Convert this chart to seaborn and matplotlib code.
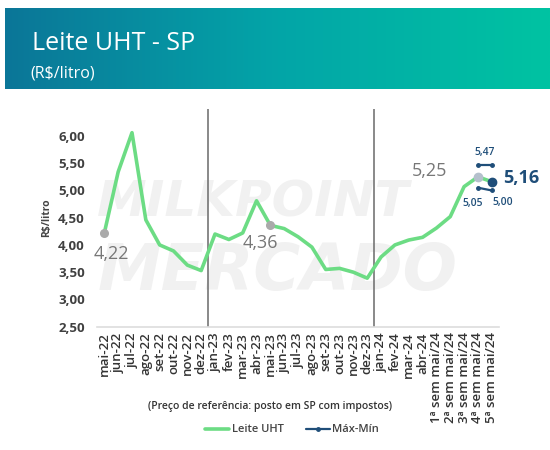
import numpy as np
import pandas as pd
import matplotlib
matplotlib.use("Agg")
import matplotlib.pyplot as plt
from matplotlib.colors import LinearSegmentedColormap
from matplotlib.lines import Line2D
import seaborn as sns

# ---- data ----
categories = ["mai-22", "jun-22", "jul-22", "ago-22", "set-22", "out-22", "nov-22", "dez-22",
              "jan-23", "fev-23", "mar-23", "abr-23", "mai-23", "jun-23", "jul-23", "ago-23",
              "set-23", "out-23", "nov-23", "dez-23", "jan-24", "fev-24", "mar-24", "abr-24",
              "1ª sem mai/24", "2ª sem mai/24", "3ª sem mai/24", "4ª sem mai/24", "5ª sem mai/24"]
leite_uht = [4.22, 5.34, 6.06, 4.46, 4.00, 3.89, 3.63, 3.53,
             4.20, 4.10, 4.22, 4.81, 4.36, 4.30, 4.15, 3.96,
             3.55, 3.57, 3.50, 3.39, 3.78, 4.00, 4.09, 4.14,
             4.31, 4.52, 5.07, 5.25, 5.16]
maxmin_idx = [27, 28]
max_vals = [5.47, 5.47]
min_vals = [5.05, 5.00]
yticks = [2.5, 3.0, 3.5, 4.0, 4.5, 5.0, 5.5, 6.0]

sns.set_style("white")
plt.rcParams["font.family"] = ["Open Sans", "DejaVu Sans"]

GREEN = "#6cdc84"
NAVY = "#1f4e79"

fig = plt.figure(figsize=(5.5, 4.5), dpi=100)

# header banner
bax = fig.add_axes([5/550, 1-89/450, 1-5/550, 81/450])
cmap = LinearSegmentedColormap.from_list("hdr", ["#0b7698", "#03a5a8", "#00c3a2"])
bax.imshow(np.linspace(0, 1, 256).reshape(1, -1), aspect="auto", cmap=cmap, extent=[0, 1, 0, 1])
bax.set_axis_off()
fig.text(32/550, 1-44/450, "Leite UHT - SP", color="white", fontsize=18, va="center", ha="left")
fig.text(30/550, 1-74/450, "(R$/litro)", color="white", fontsize=11.5, va="center", ha="left")

ax = fig.add_axes([97.4/550, 1-326.7/450, 401.3/550, 218/450])
df = pd.DataFrame({"x": np.arange(len(categories)), "v": leite_uht})

# watermark
wm = dict(transform=ax.transAxes, fontweight="bold", style="italic", color="#f1f1f1",
          zorder=0, va="center", ha="left", family=["DejaVu Sans"])
ax.text(0.0, 0.57, "MILKPOINT", fontsize=36, **wm)
ax.text(0.0, 0.25, "MERCADO", fontsize=46, **wm)

sns.lineplot(data=df, x="x", y="v", ax=ax, color=GREEN, linewidth=2.6, zorder=3)

for xv in [7.5, 19.5]:
    ax.axvline(xv, color="#6a6a6a", linewidth=1.1, zorder=2)

# max-min
ax.plot(maxmin_idx, max_vals, color=NAVY, linewidth=1.6, marker="o", markersize=2.5, zorder=4)
ax.plot(maxmin_idx, min_vals, color=NAVY, linewidth=1.6, marker="o", markersize=2.5, zorder=4)

# highlighted points
for i, c, s in [(0, "#aaaaaa", 5.5), (12, "#aaaaaa", 5.5), (27, "#b4c0cc", 6), (28, NAVY, 6)]:
    ax.plot([i], [leite_uht[i]], "o", color=c, markersize=s, zorder=5)

lab = lambda v: f"{v:.2f}".replace(".", ",")
ax.annotate(lab(leite_uht[0]), (0, leite_uht[0]), xytext=(5, -15), textcoords="offset points",
            ha="center", va="center", fontsize=13, color="#777777")
ax.annotate(lab(leite_uht[12]), (12, leite_uht[12]), xytext=(-7, -13), textcoords="offset points",
            ha="center", va="center", fontsize=13, color="#777777")
ax.annotate(lab(leite_uht[27]), (27, leite_uht[27]), xytext=(-35, 4), textcoords="offset points",
            ha="center", va="center", fontsize=13, color="#777777")
ax.annotate(lab(leite_uht[28]), (28, leite_uht[28]), xytext=(21, 3), textcoords="offset points",
            ha="center", va="center", fontsize=13, color=NAVY, fontweight="bold")
ax.annotate(lab(max_vals[0]), (27.5, max_vals[0]), xytext=(0, 9), textcoords="offset points",
            ha="center", va="center", fontsize=7.5, color=NAVY, fontweight="semibold")
ax.annotate(lab(min_vals[0]), (27, min_vals[0]), xytext=(-4, -11), textcoords="offset points",
            ha="center", va="center", fontsize=7.5, color=NAVY, fontweight="semibold")
ax.annotate(lab(min_vals[1]), (28, min_vals[1]), xytext=(8, -9), textcoords="offset points",
            ha="center", va="center", fontsize=7.5, color=NAVY, fontweight="semibold")

ax.set_xlim(-0.5, len(categories) - 0.5)
ax.set_ylim(2.5, 6.5)
ax.set_yticks(yticks)
ax.set_yticklabels([lab(v) for v in yticks], fontsize=9.5, color="#404040", fontweight="bold")
ax.set_xticks(range(len(categories)))
ax.set_xticklabels(categories, rotation=90, fontsize=9.5, color="#333333", fontweight="semibold")
ax.tick_params(axis="both", length=0, pad=4)
ax.tick_params(axis="y", pad=9)
ax.set_xlabel("")
ax.set_ylabel("R$/litro", fontsize=7.5, color="#444444", fontweight="bold", labelpad=4)
for sp in ["top", "right", "left"]:
    ax.spines[sp].set_visible(False)
ax.spines["bottom"].set_color("#dddddd")
ax.spines["bottom"].set_linewidth(1.2)

fig.text(270/550, 1-406/450, "(Preço de referência: posto em SP com impostos)", fontsize=7.5,
         color="#333333", ha="center", va="center", fontweight="semibold")

handles = [Line2D([], [], color=GREEN, linewidth=2.6),
           Line2D([], [], color=NAVY, linewidth=1.6, marker="o", markersize=2.5)]
leg = fig.legend(handles, ["Leite UHT", "Máx-Mín"], loc="center", bbox_to_anchor=(292/550, 1-430/450),
                 ncol=2, frameon=False, fontsize=8, handlelength=2.2, handletextpad=0.2, columnspacing=2.0)
for t in leg.get_texts():
    t.set_color("#444444")
    t.set_fontweight("semibold")

fig.savefig("out.png", dpi=100)
